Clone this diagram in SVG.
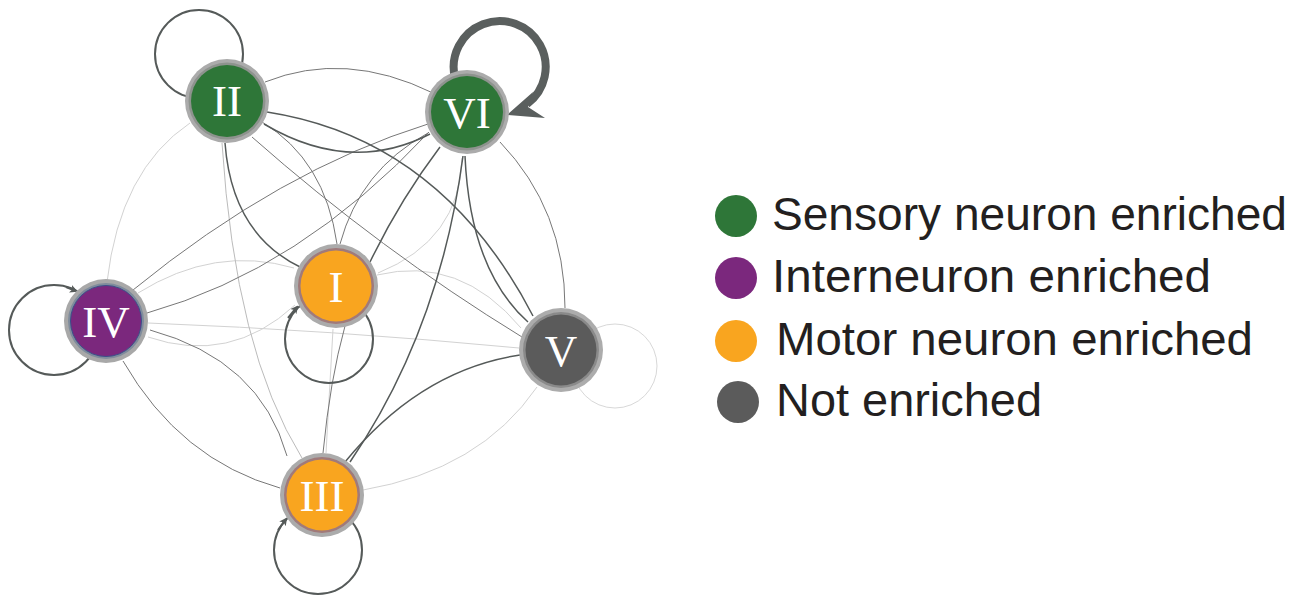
<svg xmlns="http://www.w3.org/2000/svg" width="1305" height="595" viewBox="0 0 1305 595">
<style>
.e{fill:none}
.d{stroke:#555a59;stroke-width:1.5}
.m{stroke:#777;stroke-width:1}
.l{stroke:#d2d2d2;stroke-width:1}
.lp{fill:none;stroke:#555a59;stroke-width:2}
.lab{font-family:"Liberation Serif",serif;font-size:45px;fill:#fff;text-anchor:middle}
.leg{font-family:"Liberation Sans",Arial,sans-serif;font-size:46px;fill:#231f20}
</style>
<defs>
<marker id="ah" markerWidth="8" markerHeight="8" refX="6" refY="4" orient="auto" markerUnits="userSpaceOnUse">
<path d="M0,0 L8,4 L0,8 L2,4 Z" fill="#555a59"/>
</marker>
</defs>
<rect width="1305" height="595" fill="#fff"/>
<g id="connectors">
<path class="e l" d="M107,282 Q120,170 190,123"/>
<path class="e l" d="M138,293 Q215,245 294,268"/>
<path class="e l" d="M148,337 Q230,365 295,305"/>
<path class="e l" d="M148,323 Q330,330 519,348"/>
<path class="e l" d="M377,275 Q460,255 521,328"/>
<path class="e l" d="M462,158 Q460,240 378,273"/>
<path class="e l" d="M333,329 L326,453"/>
<path class="e l" d="M363,490 Q480,470 537,387"/>
<path class="e" stroke="#bbb" stroke-width="1" d="M222,143 Q235,350 302,458"/>
<path class="e m" d="M265,82 Q345,50 433,93"/>
<path class="e m" d="M262,122 Q325,160 337,244"/>
<path class="e m" d="M252,137 Q380,250 522,337"/>
<path class="e m" d="M133,290 Q280,170 428,124"/>
<path class="e m" d="M147,313 Q300,270 429,132"/>
<path class="e m" d="M428,133 Q360,170 340,244"/>
<path class="e m" d="M123,361 Q180,460 280,488"/>
<path class="e m" d="M150,330 Q260,360 287,456"/>
<path class="e m" d="M345,326 Q330,380 323,453"/>
<path class="e m" d="M500,142 Q565,210 565,308"/>
<path class="e d" d="M264,124 Q350,175 430,134"/>
<path class="e d" d="M267,112 Q441,139 533,316"/>
<path class="e d" d="M225,143 Q232,235 302,268"/>
<path class="e d" d="M440,147 Q400,200 370,262"/>
<path class="e d" d="M463,156 Q440,330 350,462"/>
<path class="e d" d="M465,156 Q470,270 528,322"/>
<path class="e d" d="M520,355 Q420,370 345,462"/>
<circle cx="199" cy="54" r="44" class="lp"/>
<circle cx="54" cy="330" r="45" class="lp"/>
<circle cx="329" cy="339" r="44" class="lp"/>
<circle cx="318" cy="550" r="44" class="lp"/>
<circle cx="615" cy="366" r="42" fill="none" stroke="#d8d8d8" stroke-width="1"/>
<path d="M288,318 L297,307" fill="none" stroke="#555a59" stroke-width="2" marker-end="url(#ah)"/>
<path d="M278,530 L286,519" fill="none" stroke="#555a59" stroke-width="2" marker-end="url(#ah)"/>
<path d="M66,287 L76,291" fill="none" stroke="#555a59" stroke-width="2" marker-end="url(#ah)"/>
<path d="M455,78 A46,46 0 1 1 527,104" fill="none" stroke="#5a5f5e" stroke-width="8"/>
<polygon points="507,115 533,92 528,107 545,118" fill="#5a5f5e"/>
</g>
<g id="node-II">
<circle cx="227" cy="101" r="42" fill="#ababab"/>
<circle cx="227" cy="101" r="38.5" fill="#8e938e"/>
<circle cx="227" cy="101" r="36" fill="#2e7638"/>
<text x="227" y="116" class="lab">II</text>
</g>
<g id="node-VI">
<circle cx="467" cy="112" r="42" fill="#ababab"/>
<circle cx="467" cy="112" r="38.5" fill="#8e938e"/>
<circle cx="467" cy="112" r="36" fill="#2e7638"/>
<text x="467" y="128" class="lab">VI</text>
</g>
<g id="node-IV">
<circle cx="106" cy="321" r="42" fill="#a8a8a8"/>
<circle cx="106" cy="321" r="38" fill="#7f8c9c"/>
<circle cx="106" cy="321" r="35.5" fill="#7b287d" stroke="#3b4f8a" stroke-width="1"/>
<text x="106" y="337" class="lab">IV</text>
</g>
<g id="node-I">
<circle cx="336" cy="286" r="42" fill="#ababab"/>
<circle cx="336" cy="286" r="38" fill="#a07a7a"/>
<circle cx="336" cy="286" r="35.5" fill="#f9a51f"/>
<text x="336" y="302" class="lab">I</text>
</g>
<g id="node-V">
<circle cx="561" cy="350" r="42" fill="#acacac"/>
<circle cx="561" cy="350" r="38" fill="#8a8a8a"/>
<circle cx="561" cy="350" r="35.5" fill="#5b5b5b"/>
<text x="561" y="366" class="lab">V</text>
</g>
<g id="node-III">
<circle cx="322" cy="495" r="42" fill="#ababab"/>
<circle cx="322" cy="495" r="38" fill="#a07a7a"/>
<circle cx="322" cy="495" r="35.5" fill="#f9a51f"/>
<text x="322" y="511" class="lab">III</text>
</g>
<g id="legend">
<circle cx="736" cy="216" r="21" fill="#2e7638"/>
<text x="772" y="230" class="leg" textLength="515" lengthAdjust="spacingAndGlyphs">Sensory neuron enriched</text>
<circle cx="736" cy="278" r="21" fill="#7b287d"/>
<text x="772" y="292" class="leg" textLength="439" lengthAdjust="spacingAndGlyphs">Interneuron enriched</text>
<circle cx="736" cy="341" r="21" fill="#f9a51f"/>
<text x="776" y="355" class="leg" textLength="477" lengthAdjust="spacingAndGlyphs">Motor neuron enriched</text>
<circle cx="738" cy="402" r="21" fill="#5b5b5b"/>
<text x="776" y="416" class="leg" textLength="266" lengthAdjust="spacingAndGlyphs">Not enriched</text>
</g>
</svg>
